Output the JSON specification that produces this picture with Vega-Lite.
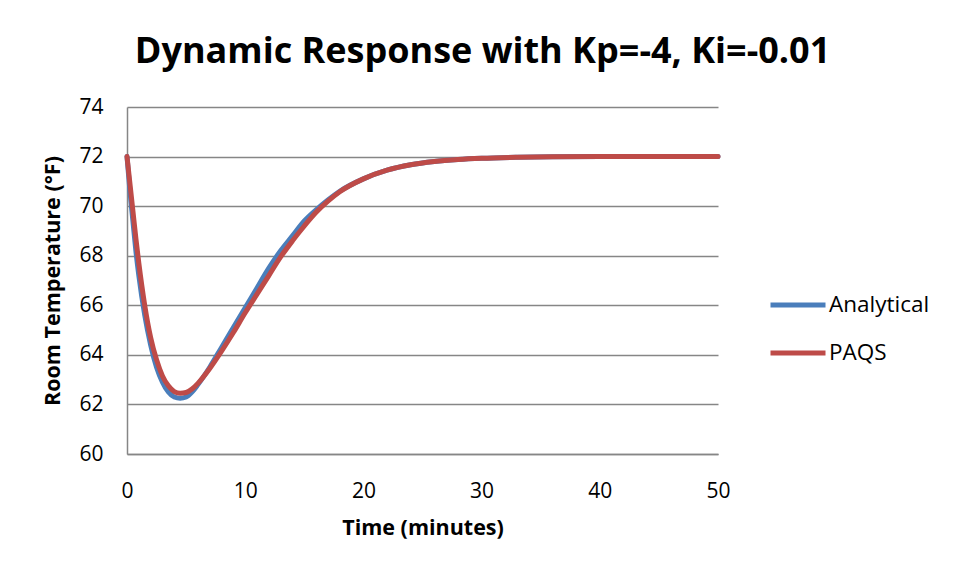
{
  "$schema": "https://vega.github.io/schema/vega-lite/v6.json",
  "autosize": "none",
  "width": 591,
  "height": 347,
  "padding": {"left": 127, "top": 107, "right": 243, "bottom": 123},
  "background": "white",
  "config": {
    "view": {"stroke": null},
    "font": "Open Sans"
  },
  "title": {
    "text": "Dynamic Response with Kp=-4, Ki=-0.01",
    "font": "Open Sans",
    "fontSize": 36,
    "fontWeight": "bold",
    "color": "#000000",
    "anchor": "middle",
    "frame": "group",
    "dx": 60,
    "offset": 25
  },
  "data": {
    "values": [
      {"t": 0, "T": 72, "s": "Analytical"},
      {"t": 0.25, "T": 70.6, "s": "Analytical"},
      {"t": 0.5, "T": 69.4, "s": "Analytical"},
      {"t": 0.75, "T": 68.2, "s": "Analytical"},
      {"t": 1, "T": 67.2, "s": "Analytical"},
      {"t": 1.5, "T": 65.6, "s": "Analytical"},
      {"t": 2, "T": 64.4, "s": "Analytical"},
      {"t": 2.5, "T": 63.5, "s": "Analytical"},
      {"t": 3, "T": 62.9, "s": "Analytical"},
      {"t": 3.5, "T": 62.5, "s": "Analytical"},
      {"t": 4, "T": 62.3, "s": "Analytical"},
      {"t": 4.5, "T": 62.25, "s": "Analytical"},
      {"t": 5, "T": 62.3, "s": "Analytical"},
      {"t": 5.5, "T": 62.5, "s": "Analytical"},
      {"t": 6, "T": 62.8, "s": "Analytical"},
      {"t": 7, "T": 63.5, "s": "Analytical"},
      {"t": 8, "T": 64.3, "s": "Analytical"},
      {"t": 9, "T": 65.1, "s": "Analytical"},
      {"t": 10, "T": 65.9, "s": "Analytical"},
      {"t": 11, "T": 66.7, "s": "Analytical"},
      {"t": 12, "T": 67.5, "s": "Analytical"},
      {"t": 13, "T": 68.2, "s": "Analytical"},
      {"t": 14, "T": 68.8, "s": "Analytical"},
      {"t": 15, "T": 69.4, "s": "Analytical"},
      {"t": 16, "T": 69.85, "s": "Analytical"},
      {"t": 17, "T": 70.25, "s": "Analytical"},
      {"t": 18, "T": 70.6, "s": "Analytical"},
      {"t": 20, "T": 71.1, "s": "Analytical"},
      {"t": 22, "T": 71.45, "s": "Analytical"},
      {"t": 24, "T": 71.67, "s": "Analytical"},
      {"t": 26, "T": 71.8, "s": "Analytical"},
      {"t": 28, "T": 71.88, "s": "Analytical"},
      {"t": 30, "T": 71.93, "s": "Analytical"},
      {"t": 33, "T": 71.97, "s": "Analytical"},
      {"t": 36, "T": 71.99, "s": "Analytical"},
      {"t": 40, "T": 72, "s": "Analytical"},
      {"t": 45, "T": 72, "s": "Analytical"},
      {"t": 50, "T": 72, "s": "Analytical"},
      {"t": 0, "T": 72, "s": "PAQS"},
      {"t": 0.25, "T": 70.9, "s": "PAQS"},
      {"t": 0.5, "T": 69.8, "s": "PAQS"},
      {"t": 0.75, "T": 68.7, "s": "PAQS"},
      {"t": 1, "T": 67.7, "s": "PAQS"},
      {"t": 1.5, "T": 66.0, "s": "PAQS"},
      {"t": 2, "T": 64.7, "s": "PAQS"},
      {"t": 2.5, "T": 63.8, "s": "PAQS"},
      {"t": 3, "T": 63.15, "s": "PAQS"},
      {"t": 3.5, "T": 62.75, "s": "PAQS"},
      {"t": 4, "T": 62.52, "s": "PAQS"},
      {"t": 4.5, "T": 62.45, "s": "PAQS"},
      {"t": 5, "T": 62.48, "s": "PAQS"},
      {"t": 5.5, "T": 62.62, "s": "PAQS"},
      {"t": 6, "T": 62.85, "s": "PAQS"},
      {"t": 7, "T": 63.45, "s": "PAQS"},
      {"t": 8, "T": 64.15, "s": "PAQS"},
      {"t": 9, "T": 64.9, "s": "PAQS"},
      {"t": 10, "T": 65.7, "s": "PAQS"},
      {"t": 11, "T": 66.45, "s": "PAQS"},
      {"t": 12, "T": 67.2, "s": "PAQS"},
      {"t": 13, "T": 67.95, "s": "PAQS"},
      {"t": 14, "T": 68.6, "s": "PAQS"},
      {"t": 15, "T": 69.2, "s": "PAQS"},
      {"t": 16, "T": 69.75, "s": "PAQS"},
      {"t": 17, "T": 70.2, "s": "PAQS"},
      {"t": 18, "T": 70.58, "s": "PAQS"},
      {"t": 20, "T": 71.1, "s": "PAQS"},
      {"t": 22, "T": 71.45, "s": "PAQS"},
      {"t": 24, "T": 71.67, "s": "PAQS"},
      {"t": 26, "T": 71.8, "s": "PAQS"},
      {"t": 28, "T": 71.88, "s": "PAQS"},
      {"t": 30, "T": 71.93, "s": "PAQS"},
      {"t": 33, "T": 71.97, "s": "PAQS"},
      {"t": 36, "T": 71.99, "s": "PAQS"},
      {"t": 40, "T": 72, "s": "PAQS"},
      {"t": 45, "T": 72, "s": "PAQS"},
      {"t": 50, "T": 72, "s": "PAQS"}
    ]
  },
  "mark": {"type": "line", "strokeWidth": 5, "interpolate": "monotone", "strokeCap": "round", "strokeJoin": "round"},
  "encoding": {
    "x": {
      "field": "t",
      "type": "quantitative",
      "scale": {"domain": [0, 50], "nice": false},
      "axis": {
        "title": "Time (minutes)",
        "values": [0, 10, 20, 30, 40, 50],
        "grid": false,
        "ticks": false,
        "domainColor": "#868686",
        "domainWidth": 1.5,
        "labelFont": "Open Sans",
        "labelFontSize": 21,
        "labelColor": "#000000",
        "labelPadding": 26,
        "labelFlush": false,
        "titleFont": "Open Sans",
        "titleFontSize": 21.5,
        "titleFontWeight": "bold",
        "titleColor": "#000000",
        "titlePadding": 16
      }
    },
    "y": {
      "field": "T",
      "type": "quantitative",
      "scale": {"domain": [60, 74], "nice": false, "zero": false},
      "axis": {
        "title": "Room Temperature (°F)",
        "values": [60, 62, 64, 66, 68, 70, 72, 74],
        "grid": true,
        "gridColor": "#868686",
        "gridWidth": 1.5,
        "ticks": false,
        "domainColor": "#868686",
        "domainWidth": 1.5,
        "labelFont": "Open Sans",
        "labelFontSize": 21,
        "labelColor": "#000000",
        "labelPadding": 24,
        "labelFlush": false,
        "titleFont": "Open Sans",
        "titleFontSize": 21.5,
        "titleFontWeight": "bold",
        "titleColor": "#000000",
        "titlePadding": 14
      }
    },
    "color": {
      "field": "s",
      "type": "nominal",
      "scale": {"domain": ["Analytical", "PAQS"], "range": ["#4a7ebb", "#be4b48"]},
      "legend": {
        "title": null,
        "orient": "none",
        "legendX": 641,
        "legendY": 168,
        "symbolType": "stroke",
        "symbolSize": 3025,
        "symbolStrokeWidth": 5,
        "labelFont": "Open Sans",
        "labelFontSize": 22.5,
        "labelColor": "#000000",
        "labelOffset": 1,
        "rowPadding": 6
      }
    }
  }
}
